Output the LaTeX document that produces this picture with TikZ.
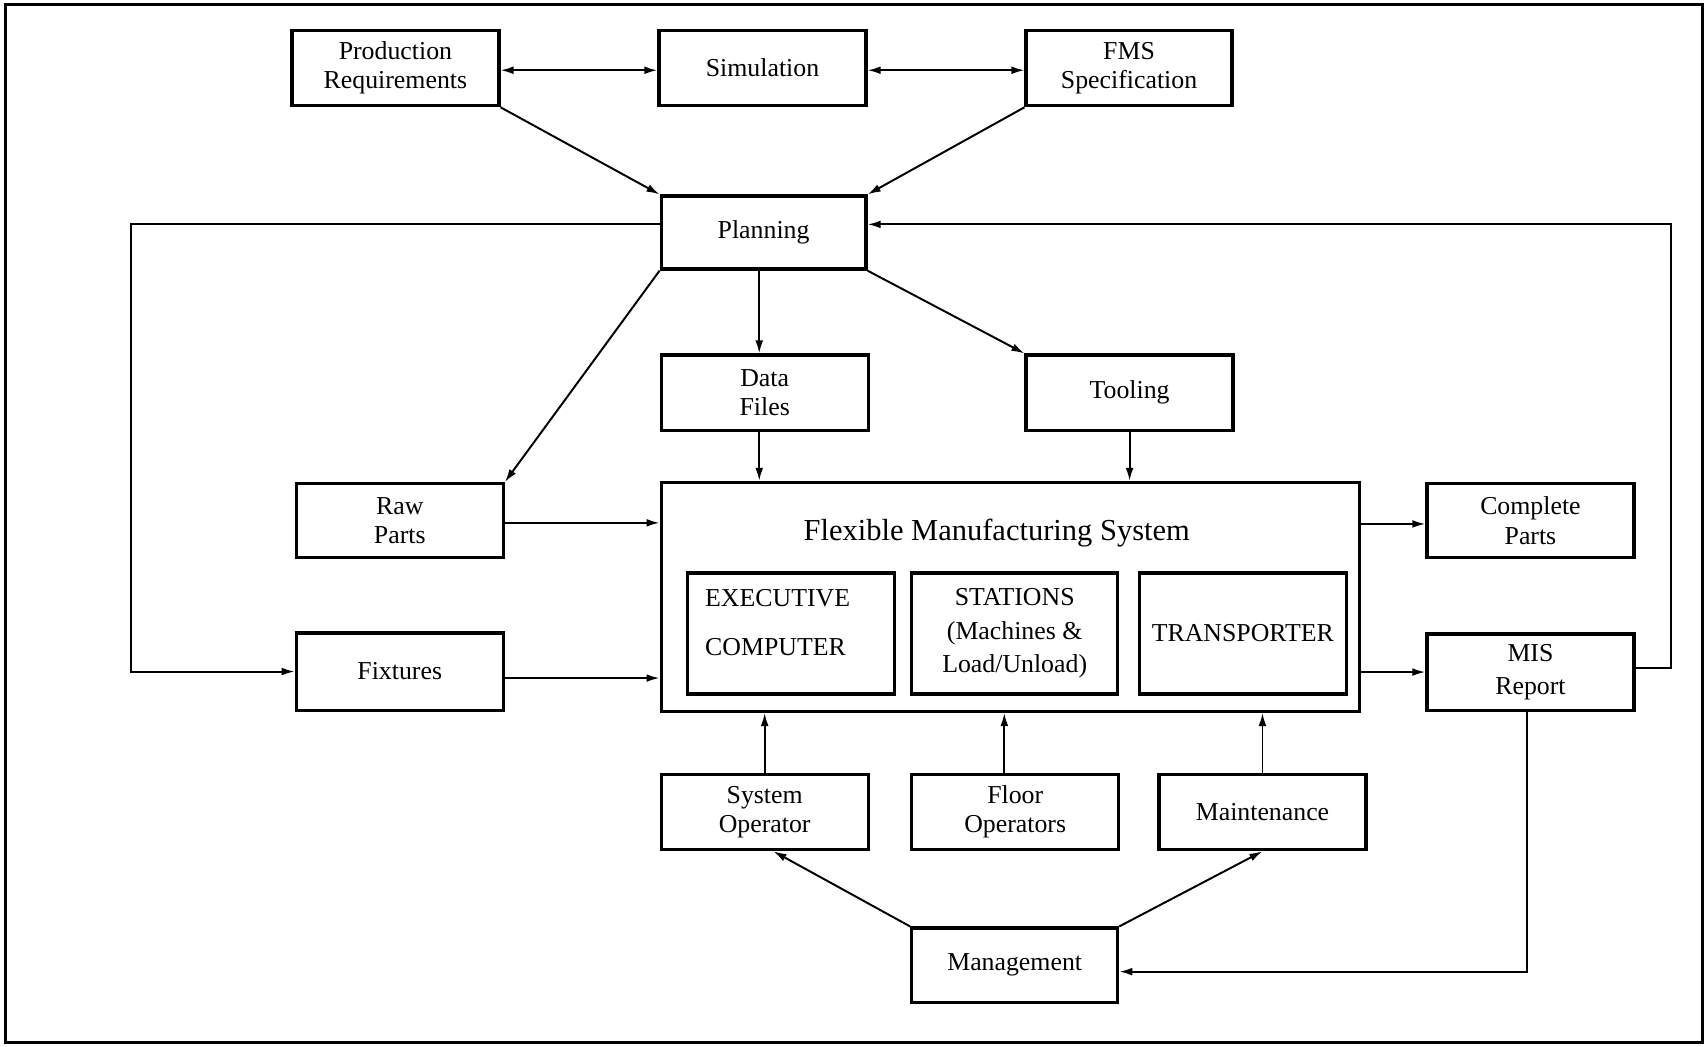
\documentclass[tikz,border=0pt]{standalone}
\usepackage{fontspec}
\setmainfont{Liberation Serif}
\usetikzlibrary{arrows.meta,calc}
\begin{document}
\begin{tikzpicture}[x=0.5pt,y=-0.5pt,
  box/.style 2 args={draw, line width=1.5pt, inner sep=0pt, outer sep=0.75pt, align=center,
    minimum width=#1pt, minimum height=#2pt,
    font=\fontsize{11.85}{13.5}\selectfont},
  txt/.style={inner sep=0pt, font=\fontsize{11.85}{13.5}\selectfont},
  arr/.style={line width=0.9pt, -{Latex[length=6pt,width=3.6pt]}},
  darr/.style={line width=0.9pt, {Latex[length=6pt,width=3.6pt]}-{Latex[length=6pt,width=3.6pt]}},
]
\useasboundingbox (0,0) rectangle (1568,961);
\draw[line width=1.3pt] (5,4) rectangle (1563,957);

% boxes
\node[box={95}{34.5}] (pr) at (363,62.5) {Production\\Requirements};
\node[box={95}{34.5}] (sim) at (700,62.5) {Simulation};
\node[box={94.5}{34.5}] (fmss) at (1036.5,62.5) {FMS\\Specification};
\node[box={94}{33.5}] (pl) at (701,213.5) {Planning};
\node[box={95}{34.5}] (df) at (702,360.5) {Data\\Files};
\node[box={95}{34.5}] (tl) at (1037,360.5) {Tooling};
\node[box={95}{34}] (rp) at (367,478) {Raw\\Parts};
\node[box={95}{35.5}] (fx) at (367,616.5) {Fixtures};
\node[box={320.5}{105}] (fms) at (927.5,548) {};
\node[inner sep=0pt, font=\fontsize{14}{16}\selectfont] (fmst) at (915,489) {Flexible Manufacturing System};
\node[box={95}{55.5}] (ex) at (726,581.5) {};
\node[txt, anchor=west, align=left] (ext) at (647,572) {EXECUTIVE\\[9pt]COMPUTER};
\node[box={94.5}{55.5}] (st) at (931.5,581.5) {STATIONS\\[2pt](Machines \&\\[2pt]Load/Unload)};
\node[box={95}{55.5}] (tr) at (1141,581.5) {TRANSPORTER};
\node[box={95}{34}] (cp) at (1405,478) {Complete\\Parts};
\node[box={95}{35}] (mis) at (1405,617) {MIS\\[2pt]Report};
\node[box={95}{34.5}] (so) at (702,745.5) {System\\Operator};
\node[box={95}{34.5}] (fo) at (932,745.5) {Floor\\Operators};
\node[box={95}{34.5}] (mt) at (1159,745.5) {Maintenance};
\node[box={94.5}{34}] (mg) at (931.5,886) {Management};

% helper coordinates
\coordinate (lft) at (120,206);
\coordinate (rgt) at (1534,206);
\coordinate (dfx) at (697,300);
\coordinate (bot) at (1402,892);

% connectors
\draw[darr] ([yshift=-1pt]pr.east) -- ([yshift=-1pt]sim.west);
\draw[darr] ([yshift=-1pt]sim.east) -- ([yshift=-1pt]fmss.west);
\draw[arr] (pr.south east) -- (pl.north west);
\draw[arr] (fmss.south west) -- (pl.north east);
\draw[arr] (pl.west |- lft) -- (lft) |- (fx.west);
\draw[arr] ([yshift=2pt]mis.east) -| (rgt) -- (pl.east |- rgt);
\draw[arr] (pl.south -| dfx) -- (df.north -| dfx);
\draw[arr] (df.south -| dfx) -- (fms.north -| dfx);
\draw[arr] (pl.south east) -- (tl.north west);
\draw[arr] (pl.south west) -- (rp.north east);
\draw[arr] (tl.south) -- (fms.north -| tl.south);
\draw[arr] ([yshift=-1pt]rp.east) -- ([yshift=-1pt]rp.east -| fms.west);
\draw[arr] ([yshift=-3pt]fx.east) -- ([yshift=-3pt]fx.east -| fms.west);
\draw[arr] ([yshift=-1.5pt]cp.west -| fms.east) -- ([yshift=-1.5pt]cp.west);
\draw[arr] (mis.west -| fms.east) -- (mis.west);
\draw[arr] (so.north) -- (so.north |- fms.south);
\draw[arr] ([xshift=-5pt]fo.north) -- ([xshift=-5pt]fo.north |- fms.south);
\draw[arr] (mt.north) -- (mt.north |- fms.south);
\draw[arr] (mg.north west) -- ([xshift=4pt]so.south);
\draw[arr] (mg.north east) -- (mt.south);
\draw[arr] (mis.south -| bot) -- (bot) -- (mg.east |- bot);
\end{tikzpicture}
\end{document}
